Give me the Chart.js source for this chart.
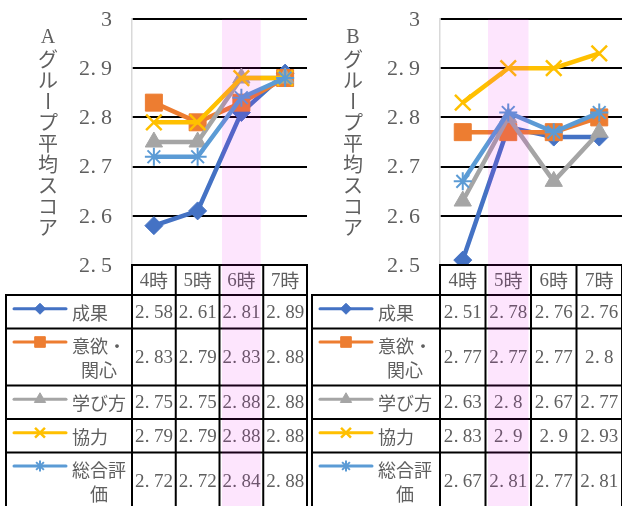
<!DOCTYPE html>
<html>
<head>
<meta charset="utf-8">
<script src="https://cdn.jsdelivr.net/npm/chart.js@4/dist/chart.umd.min.js"></script>
<style>
  html, body { margin: 0; padding: 0; background: #fff; }
  #wrap { position: relative; width: 622px; height: 506px; overflow: hidden; }
  .panel { position: absolute; top: 0; width: 311px; height: 506px; }
  #panelA { left: 0; }
  #panelB { left: 311px; }
</style>
</head>
<body>
<div id="wrap">
  <div class="panel" id="panelA"><canvas id="chartA" width="311" height="506"></canvas></div>
  <div class="panel" id="panelB"><canvas id="chartB" width="311" height="506"></canvas></div>
</div>
<script>
// ---- data ----
const periods = ['4時', '5時', '6時', '7時'];
const seriesNames = ['成果', '意欲・関心', '学び方', '協力', '総合評価'];
const yTickValues = [2.5, 2.6, 2.7, 2.8, 2.9, 3];
const yTickLabels = ['2.5', '2.6', '2.7', '2.8', '2.9', '3'];

const titleA = 'Aグループ平均スコア';
const titleB = 'Bグループ平均スコア';

// group A
const aSeika  = [2.58, 2.61, 2.81, 2.89];
const aIyoku  = [2.83, 2.79, 2.83, 2.88];
const aManabi = [2.75, 2.75, 2.88, 2.88];
const aKyoryoku = [2.79, 2.79, 2.88, 2.88];
const aSogo   = [2.72, 2.72, 2.84, 2.88];

// group B
const bSeika  = [2.51, 2.78, 2.76, 2.76];
const bIyoku  = [2.77, 2.77, 2.77, 2.8];
const bManabi = [2.63, 2.8, 2.67, 2.77];
const bKyoryoku = [2.83, 2.9, 2.9, 2.93];
const bSogo   = [2.67, 2.81, 2.77, 2.81];

// highlighted period for each group
const highlightA = '6時';
const highlightB = '5時';

// ---- styles ----
const TEXT_COLOR = '#5f5f5f';
const LATIN_FONT = '"Liberation Serif", "DejaVu Serif", serif';
const CJK_FONT = '"Noto Sans CJK JP", "Noto Sans CJK SC", sans-serif';
const seriesStyles = [
  { color: '#4472C4', pointStyle: 'rectRot',  radius: 9,   pointBorderWidth: 1,   keyRadius: 5.5 },
  { color: '#ED7D31', pointStyle: 'rect',     radius: 12,  pointBorderWidth: 1,   keyRadius: 7.5 },
  { color: '#A5A5A5', pointStyle: 'triangle', radius: 10,  pointBorderWidth: 1,   keyRadius: 6.5 },
  { color: '#FFC000', pointStyle: 'crossRot', radius: 11,  pointBorderWidth: 2.5, keyRadius: 7 },
  { color: '#5B9BD5', pointStyle: 'star',     radius: 9,   pointBorderWidth: 2,   keyRadius: 5.5 }
];

function buildDatasets(valueLists) {
  return valueLists.map((vals, i) => {
    const s = seriesStyles[i];
    return {
      label: seriesNames[i],
      data: vals,
      borderColor: s.color,
      backgroundColor: s.color,
      pointBackgroundColor: s.color,
      pointBorderColor: s.color,
      borderWidth: 4.5,
      pointStyle: s.pointStyle,
      pointRadius: s.radius,
      pointHoverRadius: s.radius,
      pointBorderWidth: s.pointBorderWidth,
      keyRadius: s.keyRadius,
      tension: 0,
      clip: false,
      order: valueLists.length - 1 - i
    };
  });
}

// half-width cells for ASCII, full-width cells for everything else
const isHalf = ch => ch.charCodeAt(0) < 128;
const cellWidth = (ch, size) => isHalf(ch) ? size / 2 : size;
function monoWidth(text, size) {
  let w = 0;
  for (const ch of text) w += cellWidth(ch, size);
  return w;
}
function drawMono(ctx, text, x, y, align, size) {
  const w = monoWidth(text, size);
  let cx = align === 'right' ? x - w : align === 'center' ? x - w / 2 : x;
  ctx.textAlign = 'center';
  ctx.textBaseline = 'middle';
  for (const ch of text) {
    const cw = cellWidth(ch, size);
    ctx.font = size + 'px ' + (isHalf(ch) ? LATIN_FONT : CJK_FONT);
    const gx = ch === '.' ? cx + cw * 0.3 : cx + cw / 2;
    ctx.fillText(ch, gx, y);
    cx += cw;
  }
}
function wrapMono(text, size, maxW) {
  const lines = [];
  let cur = '';
  for (const ch of text) {
    if (cur && monoWidth(cur + ch, size) > maxW) { lines.push(cur); cur = ch; }
    else cur += ch;
  }
  if (cur) lines.push(cur);
  return lines;
}

// axis labels, vertical title, data table and highlighted period band
const tablePlugin = {
  id: 'dataTable',
  afterDraw(chart) {
    const o = chart.options.plugins.dataTable;
    const ctx = chart.ctx;
    const area = chart.chartArea;
    const xs = chart.scales.x;
    const ys = chart.scales.y;
    const labels = chart.data.labels;
    const n = labels.length;
    const colW = area.width / n;
    const edges = [];
    for (let i = 0; i < n; i++) edges.push(xs.getPixelForValue(i) - colW / 2);
    edges.push(xs.getPixelForValue(n - 1) + colW / 2);

    ctx.save();

    // y tick labels
    ctx.fillStyle = TEXT_COLOR;
    ys.ticks.forEach((t, i) => {
      const lab = t.label != null && t.label !== '' ? String(t.label) : yTickLabels[i];
      drawMono(ctx, lab, area.left - o.tickGap, ys.getPixelForValue(t.value) + 1, 'right', 22);
    });

    // vertical title, one glyph per line
    Array.from(o.title).forEach((ch, i) => {
      const ty = o.titleTop + i * o.titleStep;
      ctx.font = '20px ' + (isHalf(ch) ? LATIN_FONT : CJK_FONT);
      ctx.textAlign = 'center';
      ctx.textBaseline = 'middle';
      if (ch === 'ー') {
        ctx.save();
        ctx.translate(o.titleX, ty);
        ctx.rotate(Math.PI / 2);
        ctx.fillText(ch, 0, 0);
        ctx.restore();
      } else {
        ctx.fillText(ch, o.titleX, ty);
      }
    });

    // row geometry
    const legL = o.legendLeft;
    const headerTop = area.bottom;
    const headerBottom = headerTop + o.headerHeight;
    const rows = chart.data.datasets.map(ds => ({ ds, lines: wrapMono(ds.label, 18, o.nameWidth) }));
    let yy = headerBottom;
    rows.forEach(r => {
      const h = r.lines.length > 1 ? o.tallRow : o.rowHeight;
      r.top = yy; r.bottom = yy + h; yy += h;
    });
    const tableBottom = yy;

    // cell backgrounds
    ctx.fillStyle = '#ffffff';
    ctx.fillRect(edges[0], headerTop, edges[n] - edges[0], o.headerHeight);
    ctx.fillRect(legL, headerBottom, edges[n] - legL, tableBottom - headerBottom);

    // header labels
    ctx.fillStyle = TEXT_COLOR;
    labels.forEach((lab, i) => {
      drawMono(ctx, lab, (edges[i] + edges[i + 1]) / 2, (headerTop + headerBottom) / 2 + 1, 'center', 19);
    });

    // values
    rows.forEach(r => {
      const cy = (r.top + r.bottom) / 2 + 1;
      r.ds.data.forEach((v, i) => {
        drawMono(ctx, String(v), (edges[i] + edges[i + 1]) / 2, cy, 'center', 19);
      });
    });

    // legend keys and series names
    rows.forEach(r => {
      const lineH = 24;
      const cy = (r.top + r.bottom) / 2;
      const firstY = cy - (r.lines.length - 1) * lineH / 2;
      const blockW = Math.max(...r.lines.map(l => monoWidth(l, 18)));
      const blockCx = legL + o.nameOffset + blockW / 2;
      ctx.fillStyle = TEXT_COLOR;
      r.lines.forEach((l, k) => drawMono(ctx, l, blockCx, firstY + k * lineH + 1, 'center', 18));

      const ky = firstY - 3;
      ctx.strokeStyle = r.ds.borderColor;
      ctx.lineWidth = 3;
      ctx.lineCap = 'round';
      ctx.beginPath();
      ctx.moveTo(legL + 8, ky);
      ctx.lineTo(legL + 60, ky);
      ctx.stroke();
      ctx.lineCap = 'butt';
      ctx.fillStyle = r.ds.borderColor;
      ctx.lineWidth = r.ds.pointBorderWidth;
      Chart.helpers.drawPoint(ctx, {
        pointStyle: r.ds.pointStyle,
        radius: r.ds.keyRadius,
        rotation: 0,
        borderWidth: r.ds.pointBorderWidth
      }, legL + 34, ky);
    });

    // borders
    ctx.strokeStyle = '#000000';
    ctx.lineWidth = 2;
    ctx.beginPath();
    ctx.moveTo(edges[0] - 1, headerTop); ctx.lineTo(edges[n] + 1, headerTop);
    ctx.moveTo(legL - 1, headerBottom); ctx.lineTo(edges[n] + 1, headerBottom);
    rows.forEach(r => { ctx.moveTo(legL - 1, r.bottom); ctx.lineTo(edges[n] + 1, r.bottom); });
    ctx.moveTo(legL, headerBottom); ctx.lineTo(legL, tableBottom);
    edges.forEach(x => { ctx.moveTo(x, headerTop); ctx.lineTo(x, tableBottom); });
    ctx.stroke();

    // highlighted period band
    const hi = labels.indexOf(o.highlight);
    if (hi >= 0) {
      ctx.fillStyle = 'rgba(240, 0, 240, 0.1)';
      ctx.fillRect(edges[hi] + 2.5, area.top, colW - 5, chart.height - area.top);
    }
    ctx.restore();
  }
};

function makeChart(canvasId, valueLists, opts) {
  return new Chart(document.getElementById(canvasId), {
    type: 'line',
    data: { labels: periods, datasets: buildDatasets(valueLists) },
    plugins: [tablePlugin],
    options: {
      responsive: false,
      animation: false,
      devicePixelRatio: 1,
      layout: { autoPadding: false, padding: { top: 19, right: opts.padRight, bottom: 241, left: 0 } },
      plugins: {
        legend: { display: false },
        tooltip: { enabled: false },
        dataTable: {
          title: opts.title,
          titleX: opts.titleX,
          titleTop: 38,
          titleStep: 21,
          tickGap: 20,
          highlight: opts.highlight,
          legendLeft: opts.legendLeft,
          headerHeight: 30,
          rowHeight: 33.5,
          tallRow: 57,
          nameWidth: 58,
          nameOffset: 66
        }
      },
      scales: {
        x: {
          type: 'category',
          display: false,
          offset: true
        },
        y: {
          min: 2.5,
          max: 3,
          afterFit: s => { s.width = opts.axisWidth; },
          afterBuildTicks: s => { s.ticks = yTickValues.map(v => ({ value: v })); },
          ticks: {
            display: false,
            callback: (v, i) => yTickLabels[i]
          },
          grid: { color: '#000000', lineWidth: 2, drawTicks: false },
          border: { color: '#d9d9d9', width: 1.5 }
        }
      }
    }
  });
}

makeChart('chartA', [aSeika, aIyoku, aManabi, aKyoryoku, aSogo], {
  title: titleA, titleX: 48, highlight: highlightA, legendLeft: 6, axisWidth: 132, padRight: 4
});
makeChart('chartB', [bSeika, bIyoku, bManabi, bKyoryoku, bSogo], {
  title: titleB, titleX: 42, highlight: highlightB, legendLeft: 1, axisWidth: 129, padRight: 0
});
</script>
</body>
</html>
